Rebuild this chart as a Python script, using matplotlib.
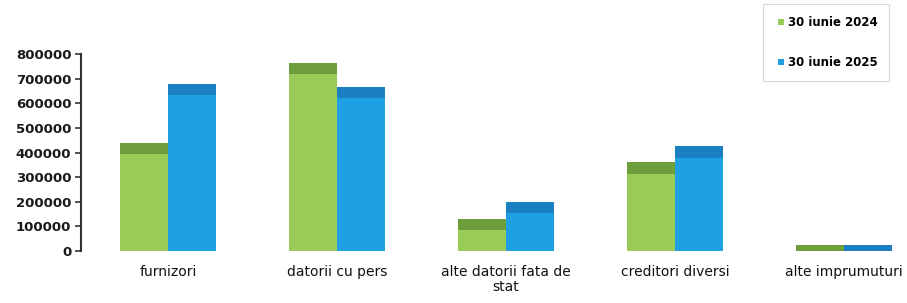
import matplotlib
matplotlib.use("Agg")
import matplotlib.pyplot as plt
import numpy as np
from matplotlib.lines import Line2D

categories = ["furnizori", "datorii cu pers", "alte datorii fata de\nstat",
              "creditori diversi", "alte imprumuturi"]
series_names = ["30 iunie 2024", "30 iunie 2025"]
values_2024 = [440000, 765000, 130000, 360000, 25000]
values_2025 = [678000, 668000, 200000, 425000, 25000]
yticks = [0, 100000, 200000, 300000, 400000, 500000, 600000, 700000, 800000]

light = ["#9acb58", "#1fa0e2"]
dark = ["#6e9e3c", "#1a80c2"]
band = 46000

plt.rcParams['font.family'] = ['DejaVu Sans']
fig = plt.figure(figsize=(9.07, 3.03), dpi=100)
ax = fig.add_axes([81/907, 52/303, 1 - 81/907, (251-54)/303])

x = np.arange(len(categories))
w = 0.285
for i, vals in enumerate([values_2024, values_2025]):
    pos = x - w/2 + i*w
    ax.bar(pos, vals, width=w, color=light[i], linewidth=0)
    vals = np.array(vals)
    b = np.minimum(vals, band)
    ax.bar(pos, b, bottom=vals - b, width=w, color=dark[i], linewidth=0)

ax.set_xlim(-0.515, 4.373)
ax.set_ylim(0, 800000)
ax.set_yticks(yticks)
ax.set_yticklabels([str(v) for v in yticks], fontsize=9.5, fontweight='bold', color='#1a1a1a')
ax.set_xticks(x)
ax.set_xticklabels(categories, fontsize=10, color='#111111', linespacing=1.1)
ax.tick_params(axis='x', length=0, pad=10)
ax.tick_params(axis='y', length=4, width=1.2, color='#333333', pad=3)
for s in ['top', 'right', 'bottom']:
    ax.spines[s].set_visible(False)
ax.spines['left'].set_linewidth(1.5)
ax.spines['left'].set_color('#333333')

handles = [Line2D([], [], marker='s', linestyle='none', markersize=5,
                  markerfacecolor=light[i], markeredgewidth=0) for i in range(2)]
leg = fig.legend(handles, series_names, loc='upper left',
                 bbox_to_anchor=(763/907, 1 - 4/303), frameon=True,
                 prop={'size': 8.5, 'weight': 'bold'}, labelspacing=2.3,
                 handletextpad=0.1, handlelength=1.0, borderpad=1.0,
                 borderaxespad=0, fancybox=False)
leg.get_frame().set_edgecolor('#d0d0d0')
leg.get_frame().set_linewidth(0.8)

fig.savefig("out.png", dpi=100)
